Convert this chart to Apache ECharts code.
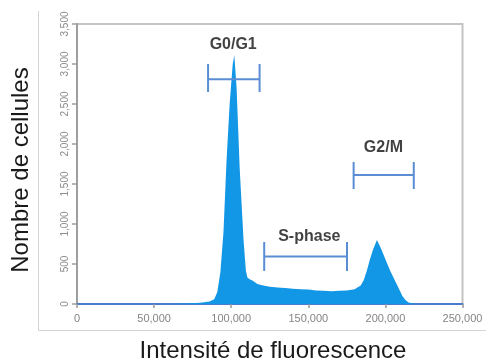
<!DOCTYPE html>
<html><head><meta charset="utf-8">
<script src="https://cdn.jsdelivr.net/npm/echarts@6/dist/echarts.min.js"></script>
<style>html,body{margin:0;padding:0;background:#fff}#c{width:486px;height:363px}</style>
</head><body><div id="c"></div>
<script>
// Histogram: fluorescence intensity vs cell count
const intensity = [0, 40000, 60000, 70000, 80000, 86000, 89000, 91000, 93000, 95000, 97000, 99000, 101000, 102000, 103500, 105500, 108000, 109500, 110500, 112000, 114000, 117000, 120000, 125000, 130000, 135000, 140000, 145000, 150000, 155000, 160000, 165000, 170000, 175000, 180000, 184000, 186000, 188000, 190000, 192000, 194500, 197000, 200000, 203000, 206000, 209000, 211000, 213000, 215000, 218000, 220000, 250000];
const cells     = [0, 0, 0, 5, 15, 30, 60, 150, 400, 900, 1800, 2500, 3000, 3110, 2700, 1700, 800, 420, 330, 310, 290, 250, 235, 215, 205, 200, 190, 185, 180, 170, 165, 160, 165, 170, 185, 230, 300, 420, 560, 680, 800, 700, 560, 420, 300, 180, 100, 50, 20, 5, 0, 0];

// Phase brackets
const phaseNames = ['G0/G1', 'S-phase', 'G2/M'];
const phaseStart = [85000, 121400, 179400];
const phaseEnd   = [118400, 175100, 218400];
const phaseLevel = [2810, 594, 1612];
const phaseTop   = [3000, 775, 1775];
const phaseBot   = [2650, 412, 1437];
const labelX     = [101300, 150650, 198700];
const labelY     = [3237, 837, 1950];

const xTicks = [0, 50000, 100000, 150000, 200000, 250000];
const yTicks = [0, 500, 1000, 1500, 2000, 2500, 3000, 3500];

const fmt = v => v.toLocaleString('en-US');

const bracketSeries = phaseNames.map((n, i) => ({
  type: 'line', silent: true, symbol: 'none', z: 5,
  lineStyle: { color: '#5a8dd3', width: 2 },
  data: [
    [phaseStart[i], phaseTop[i]], [phaseStart[i], phaseBot[i]], null,
    [phaseEnd[i], phaseTop[i]], [phaseEnd[i], phaseBot[i]], null,
    [phaseStart[i], phaseLevel[i]], [phaseEnd[i], phaseLevel[i]]
  ],
  connectNulls: false
}));

const chart = echarts.init(document.getElementById('c'), null, { renderer: 'canvas' });
chart.setOption({
  animation: false,
  grid: { left: 77, right: 23.5, top: 24, bottom: 59, show: true, borderColor: '#c4c4c4', borderWidth: 2 },
  xAxis: {
    type: 'value', min: 0, max: 250000, interval: 50000,
    axisLine: { show: true, lineStyle: { color: '#4b7ccc', width: 2 } },
    axisTick: { show: true, length: 4, lineStyle: { color: '#9a9a9a', width: 1.5 } },
    axisLabel: { color: '#858585', fontSize: 11, fontFamily: 'Liberation Sans', margin: 9, formatter: v => fmt(v) },
    splitLine: { show: false }
  },
  yAxis: {
    type: 'value', min: 0, max: 3500, interval: 500,
    axisLine: { show: true, onZero: false, lineStyle: { color: '#9e9e9e', width: 2 } },
    axisTick: { show: true, length: 5, lineStyle: { color: '#9e9e9e', width: 1.5 } },
    axisLabel: { color: '#8a8a8a', fontSize: 10, fontFamily: 'Liberation Sans', rotate: 90, margin: 7, formatter: v => fmt(v) },
    splitLine: { show: false }
  },
  series: [
    {
      type: 'line', symbol: 'none', silent: true, z: 3,
      lineStyle: { width: 0 },
      areaStyle: { color: '#1296e6', opacity: 1 },
      data: intensity.map((x, i) => [x, cells[i]])
    },
    ...bracketSeries,
    {
      type: 'scatter', symbolSize: 0, silent: true, z: 6,
      label: { show: true, position: 'inside', formatter: p => p.data[2], color: '#111111', fontSize: 16, fontWeight: 'bold', fontFamily: 'Liberation Sans' },
      data: phaseNames.map((n, i) => [labelX[i], labelY[i], n])
    }
  ],
  graphic: [
    { type: 'line', shape: { x1: 38.5, y1: 11, x2: 38.5, y2: 330.5 }, style: { stroke: '#d4d4d4', lineWidth: 1 } },
    { type: 'line', shape: { x1: 38.5, y1: 330.5, x2: 486, y2: 330.5 }, style: { stroke: '#d4d4d4', lineWidth: 1 } },
    { type: 'text', x: 21, y: 170, rotation: Math.PI / 2, style: { text: 'Nombre de cellules', fill: '#1a1a1a', font: '24px "Liberation Sans"', textAlign: 'center', textVerticalAlign: 'middle' } },
    { type: 'text', x: 273, y: 351, style: { text: 'Intensité de fluorescence', fill: '#1a1a1a', font: '24px "Liberation Sans"', textAlign: 'center', textVerticalAlign: 'middle' } }
  ]
});
</script></body></html>
